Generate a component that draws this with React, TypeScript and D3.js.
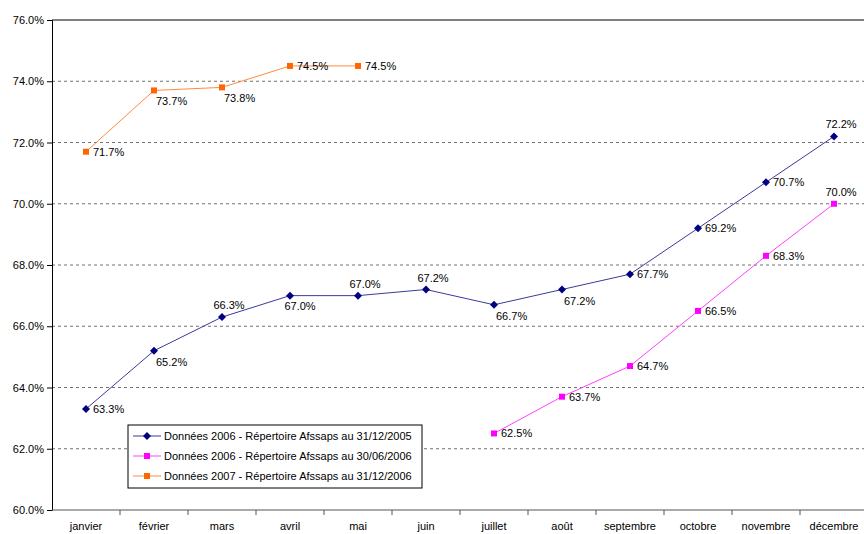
import React, { useEffect, useRef } from 'react';
import * as d3 from 'd3';

const months = ['janvier', 'février', 'mars', 'avril', 'mai', 'juin', 'juillet', 'août', 'septembre', 'octobre', 'novembre', 'décembre'];
const yTicks = [60, 62, 64, 66, 68, 70, 72, 74, 76];

const blue2006 = [63.3, 65.2, 66.3, 67.0, 67.0, 67.2, 66.7, 67.2, 67.7, 69.2, 70.7, 72.2];
const magenta2006 = [null, null, null, null, null, null, 62.5, 63.7, 64.7, 66.5, 68.3, 70.0];
const orange2007 = [71.7, 73.7, 73.8, 74.5, 74.5];

// where each data label sits: r = right, br = below right, b = below, a = above
const blueLabelPos = ['r', 'br', 'a', 'b', 'a', 'a', 'br', 'br', 'r', 'r', 'r', 'a'];
const magentaLabelPos = ['r', 'r', 'r', 'r', 'r', 'r', 'r', 'r', 'r', 'r', 'r', 'a'];
const orangeLabelPos = ['r', 'br', 'br', 'r', 'r'];

const legendLabels = [
  'Données 2006 - Répertoire Afssaps au 31/12/2005',
  'Données 2006 - Répertoire Afssaps au 30/06/2006',
  'Données 2007 - Répertoire Afssaps au 31/12/2006',
];

interface Series {
  values: (number | null)[];
  pos: string[];
  line: string;
  marker: string;
  shape: 'diamond' | 'square';
}

const App = () => {
  const ref = useRef<SVGSVGElement>(null);

  useEffect(() => {
    const svg = d3.select(ref.current);
    svg.selectAll('*').remove();

    const left = 52;
    const top = 20;
    const bottom = 510;
    const right = 868;
    const font = 'Liberation Sans, Arial, sans-serif';

    const x = d3.scaleBand<string>().domain(months).range([left, right]).padding(0);
    const cx = (i: number) => (x(months[i]) || 0) + x.bandwidth() / 2;
    const y = d3.scaleLinear().domain([60, 76]).range([bottom, top]);

    // gridlines
    svg
      .append('g')
      .selectAll('line')
      .data(yTicks.slice(1, -1))
      .enter()
      .append('line')
      .attr('x1', left)
      .attr('x2', right)
      .attr('y1', (d) => y(d))
      .attr('y2', (d) => y(d))
      .attr('stroke', '#707070')
      .attr('stroke-dasharray', '3,3');

    // top border
    svg.append('line').attr('x1', left).attr('x2', right).attr('y1', top).attr('y2', top).attr('stroke', '#000');

    // y axis
    const yAxis = svg
      .append('g')
      .attr('transform', `translate(${left},0)`)
      .call(
        d3
          .axisLeft(y)
          .tickValues(yTicks)
          .tickSize(5)
          .tickFormat((d) => `${(d as number).toFixed(1)}%`)
      );
    yAxis.select('.domain').attr('stroke', '#000');
    yAxis.selectAll('text').attr('font-family', font).attr('font-size', 11).attr('fill', '#000').attr('x', -8);

    // x axis
    svg.append('line').attr('x1', left).attr('x2', right).attr('y1', bottom).attr('y2', bottom).attr('stroke', '#555');
    svg
      .append('g')
      .selectAll('line')
      .data(months)
      .enter()
      .append('line')
      .attr('x1', (d) => (x(d) || 0) + x.bandwidth())
      .attr('x2', (d) => (x(d) || 0) + x.bandwidth())
      .attr('y1', bottom)
      .attr('y2', bottom + 5)
      .attr('stroke', '#555');
    svg
      .append('g')
      .selectAll('text')
      .data(months)
      .enter()
      .append('text')
      .attr('x', (d, i) => cx(i))
      .attr('y', 530)
      .attr('text-anchor', 'middle')
      .attr('font-family', font)
      .attr('font-size', 11)
      .text((d) => d);

    const series: Series[] = [
      { values: blue2006, pos: blueLabelPos, line: '#3a3a9a', marker: '#000080', shape: 'diamond' },
      { values: magenta2006, pos: magentaLabelPos, line: '#ff40ff', marker: '#ff00ff', shape: 'square' },
      { values: orange2007, pos: orangeLabelPos, line: '#ff8a40', marker: '#ff6600', shape: 'square' },
    ];

    const drawMarker = (g: d3.Selection<SVGGElement, unknown, null, undefined>, s: Series, px: number, py: number) => {
      if (s.shape === 'diamond') {
        g.append('path')
          .attr('d', `M${px},${py - 4}L${px + 4},${py}L${px},${py + 4}L${px - 4},${py}Z`)
          .attr('fill', s.marker);
      } else {
        g.append('rect')
          .attr('x', px - 3)
          .attr('y', py - 3)
          .attr('width', 6)
          .attr('height', 6)
          .attr('fill', s.marker);
      }
    };

    series.forEach((s) => {
      const pts = s.values.map((v, i) => ({ v, i })).filter((p) => p.v !== null) as { v: number; i: number }[];
      const line = d3
        .line<{ v: number; i: number }>()
        .x((p) => cx(p.i))
        .y((p) => y(p.v));
      svg.append('path').attr('d', line(pts)).attr('fill', 'none').attr('stroke', s.line).attr('stroke-width', 1);

      const g = svg.append('g');
      pts.forEach((p) => {
        const px = cx(p.i);
        const py = y(p.v);
        drawMarker(g, s, px, py);
        const pos = s.pos[p.i];
        let tx = px + 7;
        let ty = py + 4;
        let anchor = 'start';
        if (pos === 'br') {
          tx = px + 2;
          ty = py + 15;
        } else if (pos === 'b') {
          anchor = 'middle';
          tx = px + 10;
          ty = py + 14;
        } else if (pos === 'a') {
          anchor = 'middle';
          ty = py - 8;
        }
        g.append('text')
          .attr('x', tx)
          .attr('y', ty)
          .attr('text-anchor', anchor)
          .attr('font-family', font)
          .attr('font-size', 11)
          .attr('fill', '#000')
          .text(`${p.v.toFixed(1)}%`);
      });
    });

    // legend
    const lg = svg.append('g').attr('transform', 'translate(128,425)');
    lg.append('rect').attr('width', 294).attr('height', 63).attr('fill', '#fff').attr('stroke', '#000');
    series.forEach((s, i) => {
      const ly = 11 + i * 20;
      lg.append('line').attr('x1', 5).attr('x2', 33).attr('y1', ly).attr('y2', ly).attr('stroke', s.line);
      const mg = lg.append('g');
      drawMarker(mg as any, s, 19, ly);
      lg.append('text')
        .attr('x', 36)
        .attr('y', ly + 4)
        .attr('font-family', font)
        .attr('font-size', 11)
        .text(legendLabels[i]);
    });
  }, []);

  return <svg ref={ref} width={864} height={534} style={{ position: 'absolute', left: 0, top: 0, background: '#fff' }} />;
};

export default App;
